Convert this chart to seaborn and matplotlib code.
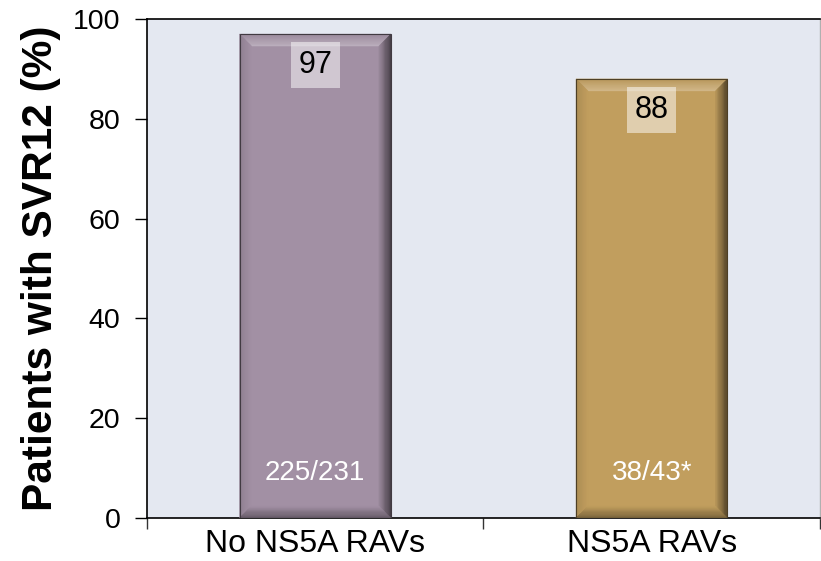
import matplotlib
matplotlib.use("Agg")
import matplotlib.pyplot as plt
import seaborn as sns
import pandas as pd
import numpy as np
from matplotlib.patches import Polygon
from matplotlib.ticker import FixedLocator

# Data
groups = ["No NS5A RAVs", "NS5A RAVs"]
svr12_pct = [97, 88]
counts = ["225/231", "38/43*"]
bar_colors = ["#A290A4", "#C19E5E"]

df = pd.DataFrame({"group": groups, "svr": svr12_pct})

sns.set_theme(style="white")
plt.rcParams["font.family"] = ["Liberation Sans", "DejaVu Sans"]

fig = plt.figure(figsize=(8.21, 5.61), dpi=100)
ax = fig.add_axes([0.179, 0.0766, 0.8198, 0.8894])
ax.set_facecolor("#E4E8F1")

sns.barplot(data=df, x="group", y="svr", hue="group", palette=bar_colors,
            width=0.45, legend=False, ax=ax, edgecolor="none", saturation=1)

ax.set_xlim(-0.5, 1.5)
ax.set_ylim(0, 100)

fig.canvas.draw()
bbox = ax.get_window_extent()
px_x = 2.0 / bbox.width     # data units per pixel in x
px_y = 100.0 / bbox.height  # data units per pixel in y
bev = 12


def shade(c, f):
    rgb = np.array(matplotlib.colors.to_rgb(c))
    if f > 0:
        rgb = rgb + (1 - rgb) * f
    else:
        rgb = rgb * (1 + f)
    return np.clip(rgb, 0, 1)


def bevel(outer, inner, c_out, c_in, n=10):
    """Fill the band between two edges with a stepped colour gradient."""
    (oa, ob), (ia, ib) = np.array(outer), np.array(inner)
    for k in range(n):
        t0, t1 = k / n, (k + 1) / n
        pts = [oa + (ia - oa) * t0, ob + (ib - ob) * t0,
               ob + (ib - ob) * t1, oa + (ia - oa) * t1]
        col = c_out + (c_in - c_out) * (k + 0.5) / n
        ax.add_patch(Polygon(pts, closed=True, facecolor=col, edgecolor=col,
                             linewidth=0.3, zorder=3))


for patch, col, val, cnt in zip(ax.patches, bar_colors, svr12_pct, counts):
    x0 = patch.get_x()
    w = patch.get_width()
    x1 = x0 + w
    y0, y1 = 0, patch.get_height()
    bx, by = bev * px_x, bev * px_y
    base = shade(col, 0)
    # top, right, left, bottom bevels
    bevel([(x0, y1), (x1, y1)], [(x0 + bx, y1 - by), (x1 - bx, y1 - by)],
          shade(col, -0.05), shade(col, 0.28))
    bevel([(x1, y1), (x1, y0)], [(x1 - bx, y1 - by), (x1 - bx, y0 + by)],
          shade(col, -0.6), shade(col, -0.05))
    bevel([(x0, y1), (x0, y0)], [(x0 + bx, y1 - by), (x0 + bx, y0 + by)],
          shade(col, -0.12), base)
    bevel([(x0, y0), (x1, y0)], [(x0 + bx, y0 + by), (x1 - bx, y0 + by)],
          shade(col, -0.4), base)
    ax.add_patch(Polygon([(x0, y0), (x0, y1), (x1, y1), (x1, y0)], closed=True,
                         facecolor="none", edgecolor=shade(col, -0.6),
                         linewidth=0.8, zorder=4))
    cx = x0 + w / 2
    ax.text(cx, val - 6.2, f"{val}", ha="center", va="center", fontsize=22,
            color="black", zorder=5,
            bbox=dict(boxstyle="square,pad=0.25", facecolor="white", alpha=0.5,
                      edgecolor="none"))
    ax.text(cx, 9, cnt, ha="center", va="center", fontsize=20, color="white",
            zorder=5)

# Axes styling
for side in ["left", "bottom", "top"]:
    ax.spines[side].set_color("black")
    ax.spines[side].set_linewidth(1.2)
ax.spines["right"].set_color("#B0B0B0")
ax.spines["right"].set_linewidth(1.0)

ax.set_yticks([0, 20, 40, 60, 80, 100])
ax.tick_params(axis="y", direction="out", length=9, width=1, color="black",
               labelsize=20.5, pad=10, left=True, labelcolor="black")
ax.tick_params(axis="x", which="major", length=0, labelsize=23, pad=8,
               labelcolor="black")
ax.xaxis.set_minor_locator(FixedLocator([-0.5, 0.5, 1.5]))
ax.tick_params(axis="x", which="minor", direction="out", length=8, width=1,
               color="#333333", bottom=True)

ax.set_xlabel("")
ax.set_ylabel("Patients with SVR12 (%)", fontsize=30.5, fontweight="bold",
              labelpad=9, color="black")

fig.savefig("out.png", dpi=100)
